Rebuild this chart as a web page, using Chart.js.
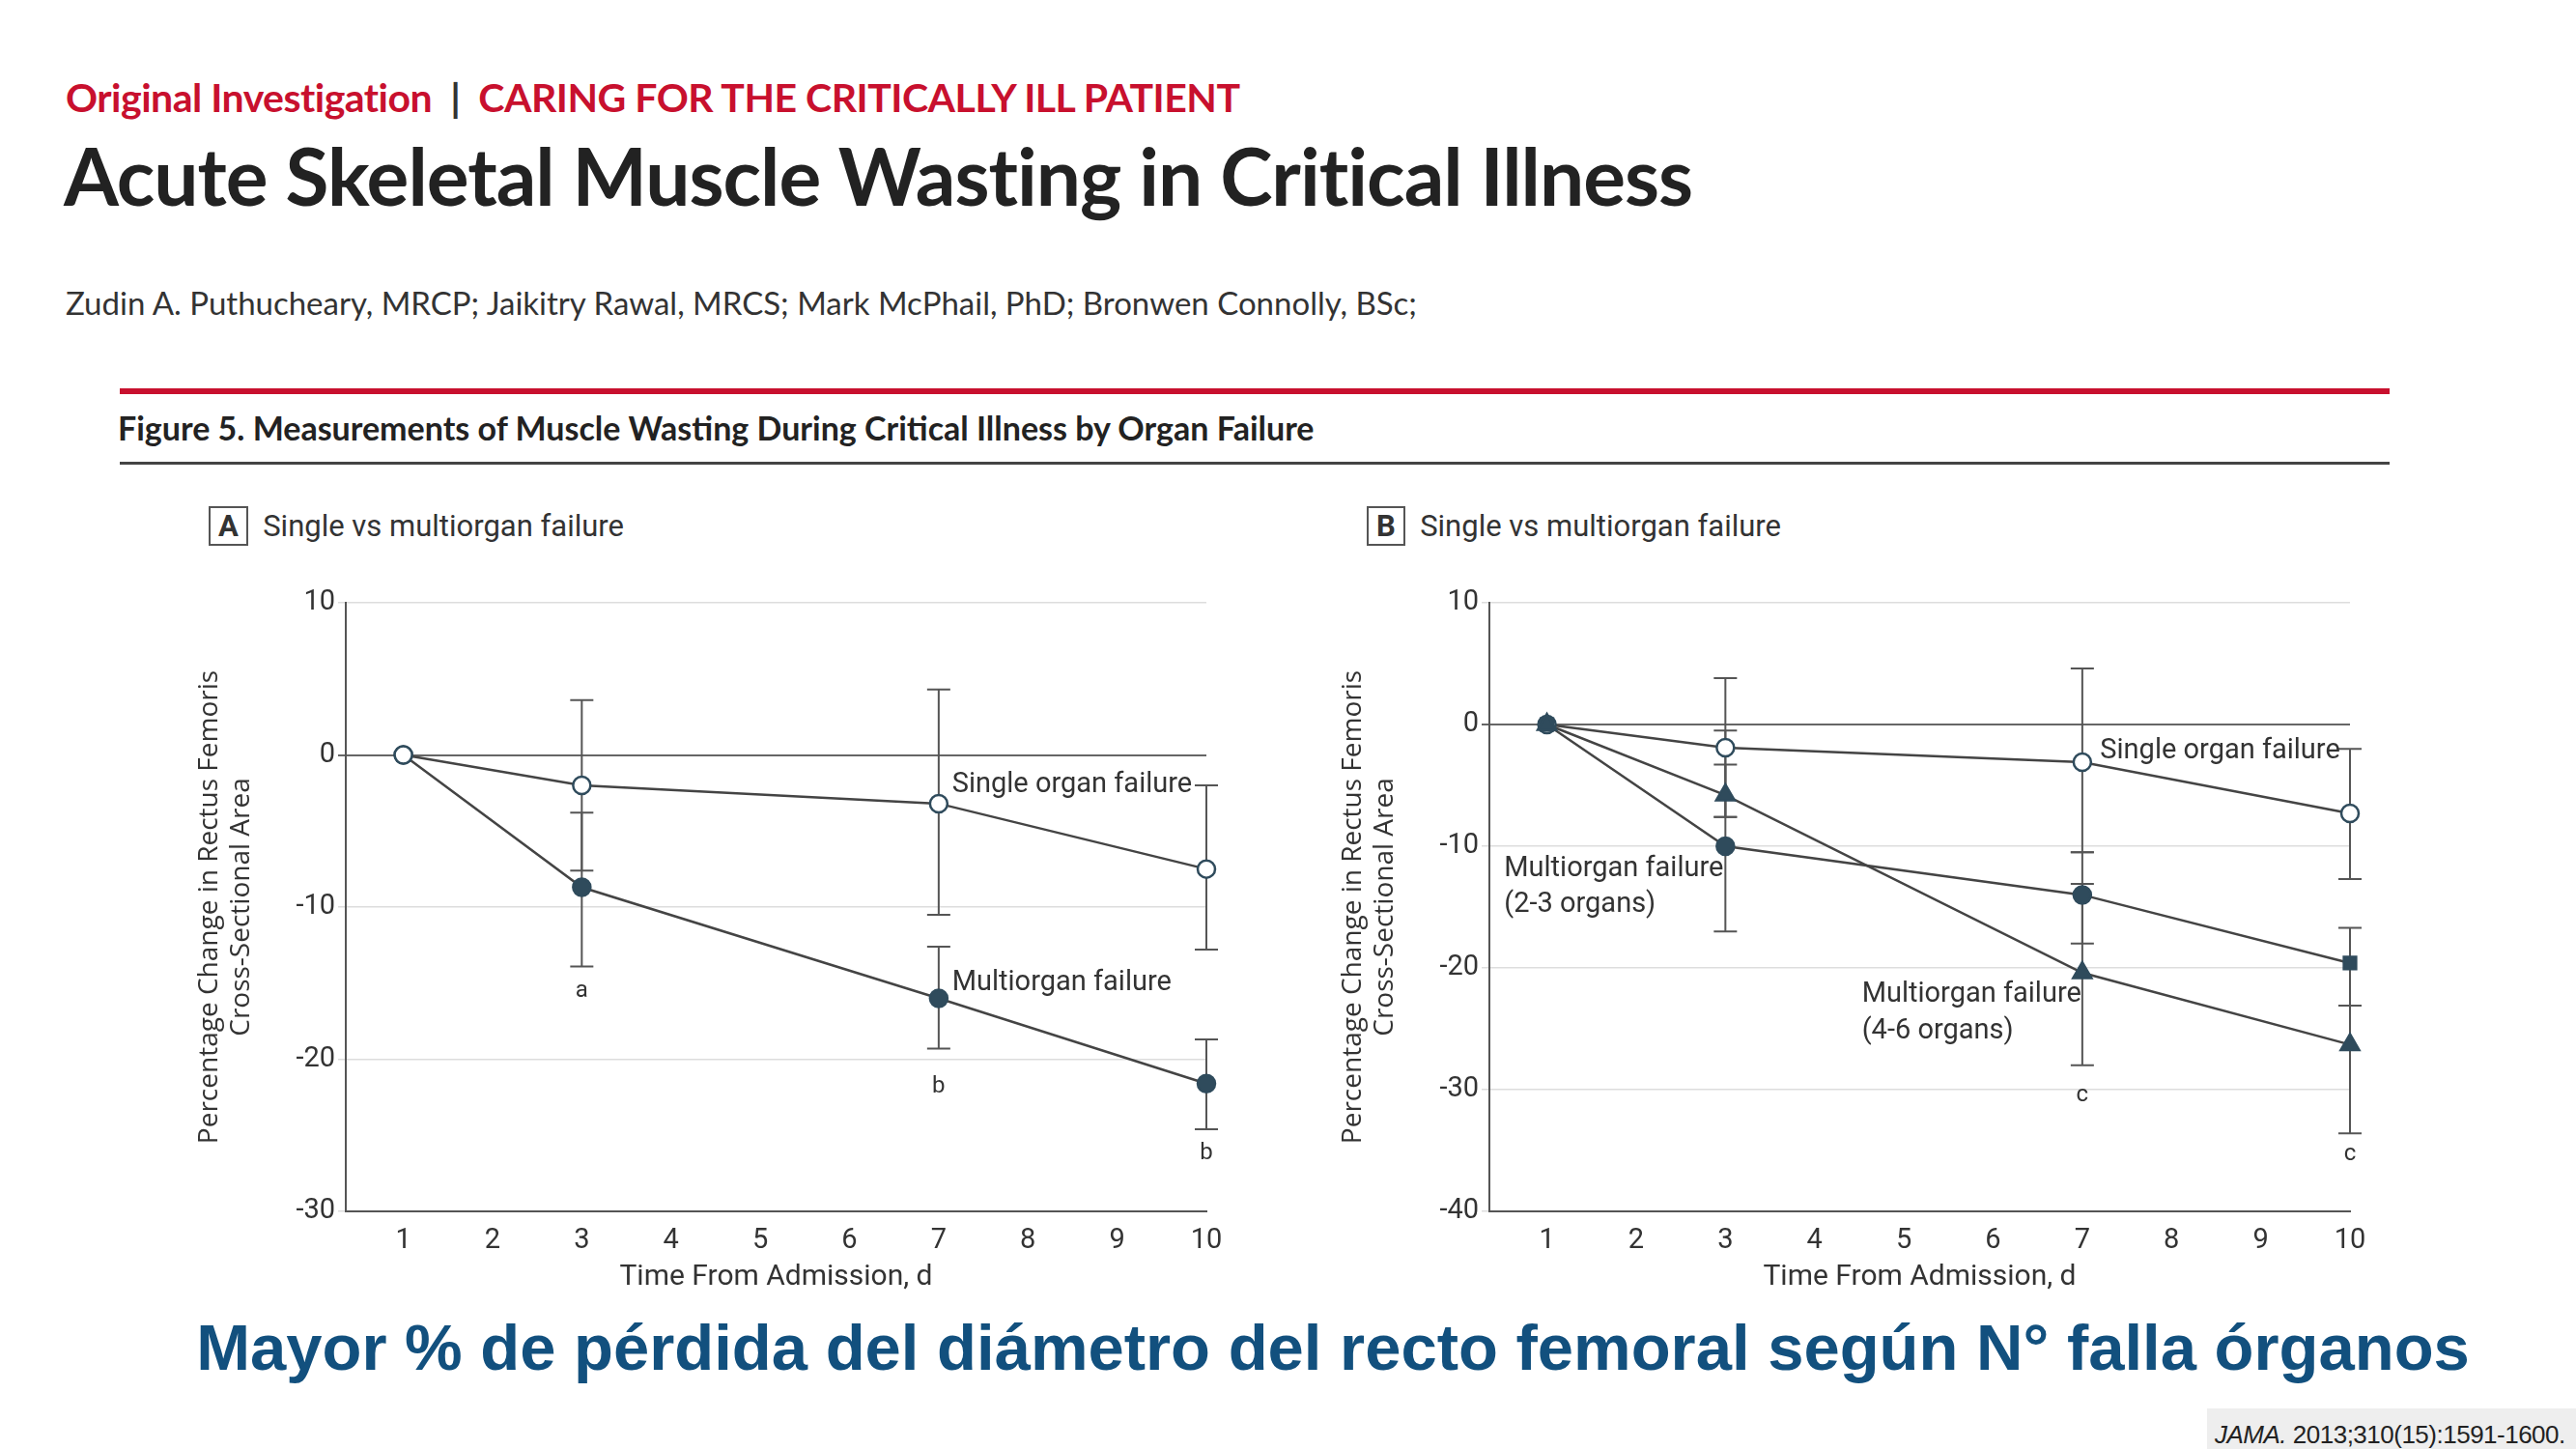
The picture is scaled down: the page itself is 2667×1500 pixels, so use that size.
<!DOCTYPE html>
<html><head><meta charset="utf-8">
<script src="https://cdn.jsdelivr.net/npm/chart.js@4.4.1/dist/chart.umd.min.js"></script>
<style>
body{margin:0;width:2667px;height:1500px;background:#fff;position:relative;overflow:hidden;font-family:"Open Sans",sans-serif}
.abs{position:absolute;white-space:nowrap}
canvas{position:absolute}
.nar{font-family:"Roboto",sans-serif}
</style></head><body>
<div class="abs" style="left:68px;top:76px;font-size:41px;font-weight:700;color:#c8102e;font-family:'Lato',sans-serif;letter-spacing:-0.5px">Original Investigation <span style="color:#333">&nbsp;|&nbsp;</span> CARING FOR THE CRITICALLY ILL PATIENT</div>
<div class="abs" style="left:66px;top:132px;font-size:82px;font-weight:700;color:#222;font-family:'Lato',sans-serif;letter-spacing:-1px">Acute Skeletal Muscle Wasting in Critical Illness</div>
<div class="abs" style="left:68px;top:293px;font-size:33px;color:#333;font-family:'Lato',sans-serif">Zudin A. Puthucheary, MRCP; Jaikitry Rawal, MRCS; Mark McPhail, PhD; Bronwen Connolly, BSc;</div>
<div class="abs" style="left:124px;top:402px;width:2350px;height:6px;background:#c8102e"></div>
<div class="abs" style="left:122px;top:422px;font-size:34px;font-weight:700;color:#222;font-family:'Lato',sans-serif">Figure 5. Measurements of Muscle Wasting During Critical Illness by Organ Failure</div>
<div class="abs" style="left:124px;top:478px;width:2350px;height:3px;background:#444"></div>
<div class="abs nar" style="left:216px;top:526px;font-size:31px;color:#333"><span style="border:2px solid #555;padding:0 8px;font-weight:700">A</span>&nbsp; Single vs multiorgan failure</div>
<div class="abs nar" style="left:1415px;top:526px;font-size:31px;color:#333"><span style="border:2px solid #555;padding:0 8px;font-weight:700">B</span>&nbsp; Single vs multiorgan failure</div>
<canvas id="cA" width="1100" height="760" style="left:200px;top:580px"></canvas>
<canvas id="cB" width="1100" height="760" style="left:1384px;top:580px"></canvas>
<div class="abs" style="left:0;width:2760px;text-align:center;top:1356px;font-size:67px;font-weight:700;color:#12507e;font-family:'Liberation Sans',sans-serif">Mayor % de pérdida del diámetro del recto femoral según N° falla órganos</div>
<div class="abs" style="left:2285px;top:1458px;width:382px;height:54px;background:#eee;font-size:26px;line-height:54px;padding-left:8px;color:#222;font-family:'Liberation Sans',sans-serif;letter-spacing:-0.5px"><i>JAMA.</i> 2013;310(15):1591-1600.</div>
<script>
const days=[1,3,7,10];
const A_single=[0,-2,-3.2,-7.5], A_singleLo=[0,-7.6,-10.5,-12.8], A_singleHi=[0,3.6,4.3,-2];
const A_multi=[0,-8.7,-16,-21.6], A_multiLo=[0,-13.9,-19.3,-24.6], A_multiHi=[0,-3.8,-12.6,-18.7];
const B_single=[0,-1.9,-3.1,-7.3], B_singleLo=[0,-7.6,-10.5,-12.7], B_singleHi=[0,3.8,4.6,-2];
const B_m23=[0,-10,-14,-19.6], B_m23Lo=[0,-17,-18,-23.1], B_m23Hi=[0,-3.3,-10.5,-16.7];
const B_m46=[0,-5.8,-20.4,-26.3], B_m46Lo=[0,-7.6,-28,-33.6], B_m46Hi=[0,-0.5,-13.1,-23.1];
const xTicks=[1,2,3,4,5,6,7,8,9,10];
const A_notes=[[7.15,-2,'Single organ failure','left'],[7.15,-15,'Multiorgan failure','left'],[3,-15.5,'a','center'],[7,-21.8,'b','center'],[10,-26.2,'b','center']];
const B_notes=[[7.2,-2.2,'Single organ failure','left'],[0.52,-11.9,'Multiorgan failure','left'],[0.52,-14.8,'(2-3 organs)','left'],[4.53,-22.2,'Multiorgan failure','left'],[4.53,-25.2,'(4-6 organs)','left'],[7,-30.5,'c','center'],[10,-35.3,'c','center']];
const FONT='Roboto,"Liberation Sans",sans-serif';
const DARK='#2f4b5c';
function ds(vals,lo,hi,style,fill){return{data:days.map((d,i)=>({x:d,y:vals[i]})),lo,hi,clip:false,borderColor:'#444',borderWidth:2.5,pointStyle:style,pointRadius:style==='triangle'?11:9,pointBackgroundColor:fill,pointBorderColor:DARK,pointBorderWidth:2.5,tension:0};}
const errPlugin={id:'err',beforeDatasetsDraw(c){const ctx=c.ctx,x=c.scales.x,y=c.scales.y;ctx.save();ctx.strokeStyle='#555';ctx.lineWidth=2;
 c.data.datasets.forEach(d=>{d.data.forEach((p,i)=>{if(d.lo[i]===d.hi[i])return;const px=x.getPixelForValue(p.x);const a=y.getPixelForValue(d.lo[i]),b=y.getPixelForValue(d.hi[i]);ctx.beginPath();ctx.moveTo(px,a);ctx.lineTo(px,b);ctx.moveTo(px-12,a);ctx.lineTo(px+12,a);ctx.moveTo(px-12,b);ctx.lineTo(px+12,b);ctx.stroke();});});ctx.restore();},
 afterDatasetsDraw(c){const ctx=c.ctx,x=c.scales.x,y=c.scales.y;ctx.save();ctx.fillStyle='#333';ctx.textBaseline='middle';
 c.options.plugins.err.notes.forEach(n=>{ctx.font=(n[2].length===1?'24px ':'29px ')+FONT;ctx.textAlign=n[3];ctx.fillText(n[2],x.getPixelForValue(n[0]),y.getPixelForValue(n[1]));});ctx.restore();}};
function make(id,sets,ymin,notes){
 new Chart(document.getElementById(id),{type:'line',data:{datasets:sets},plugins:[errPlugin],
 options:{responsive:false,animation:false,layout:{padding:{top:44,right:51,left:0,bottom:0}},
 plugins:{legend:{display:false},tooltip:{enabled:false},err:{notes}},
 scales:{x:{type:'linear',min:0.355,max:10,afterBuildTicks:s=>{s.ticks=xTicks.map(v=>({value:v}));},afterFit:s=>{s.height=86;},
   grid:{display:false,drawTicks:true,tickLength:10},border:{color:'#555',width:2},
   ticks:{color:'#333',font:{family:FONT,size:29}},title:{display:true,text:'Time From Admission, d',color:'#333',font:{family:FONT,size:30},padding:{top:4,bottom:0}}},
  y:{min:ymin,max:10,afterBuildTicks:s=>{const t=[];for(let v=ymin;v<=10;v+=10)t.push({value:v});s.ticks=t;},afterFit:s=>{s.width=158;},
   grid:{color:c=>c.tick.value===0?'#666':'#ddd',lineWidth:c=>c.tick.value===0?2:1.5,tickLength:8},border:{color:'#555',width:2},
   ticks:{color:'#333',font:{family:FONT,size:29}},title:{display:true,text:['Percentage Change in Rectus Femoris','Cross-Sectional Area'],color:'#333',font:{family:'"Open Sans",sans-serif',size:28},padding:0}}}}});
}
make('cA',[ds(A_single,A_singleLo,A_singleHi,'circle','#fff'),ds(A_multi,A_multiLo,A_multiHi,'circle',DARK)],-30,A_notes);
const m23=ds(B_m23,B_m23Lo,B_m23Hi,'circle',DARK);m23.pointStyle=['rect','circle','circle','rect'];
make('cB',[ds(B_m46,B_m46Lo,B_m46Hi,'triangle',DARK),m23,ds(B_single,B_singleLo,B_singleHi,'circle','#fff')],-40,B_notes);
</script></body></html>
